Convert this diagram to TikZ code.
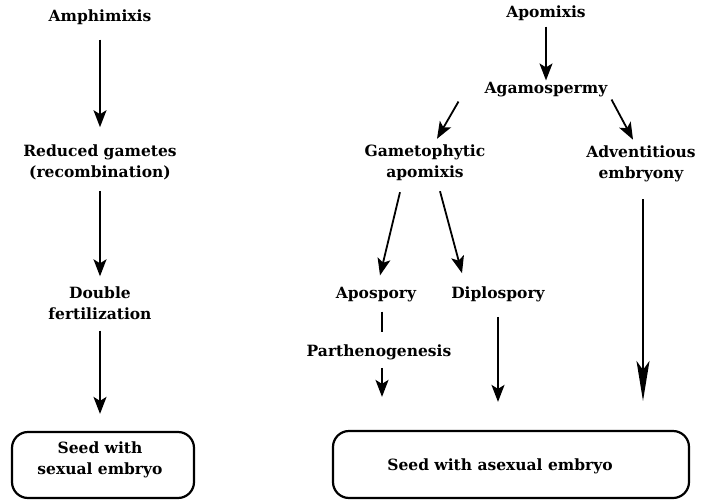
\documentclass[tikz,border=0pt]{standalone}
\usepackage{fontspec}
\setmainfont{DejaVu Serif}
\usetikzlibrary{arrows.meta,calc}
\begin{document}
\begin{tikzpicture}[x=1pt,y=-1pt,
  lbl/.style={font=\fontsize{15.5}{21}\selectfont\bfseries, align=center, inner sep=0pt},
  arr/.style={line width=1.8pt, -{Stealth[length=17pt,width=13pt,inset=4pt]}},
  longarr/.style={line width=1.8pt, -{Stealth[length=40pt,width=13pt,inset=9pt]}},
  link/.style={line width=1.8pt},
  seedbox/.style={draw, line width=2.2pt, rounded corners=16pt, inner sep=0pt}]
\useasboundingbox (0,0) rectangle (702,501);

% ---- sexual pathway ----
\node[lbl] (amph) at (100,17) {Amphimixis};
\node[lbl] (red) at (100,162) {Reduced gametes\\(recombination)};
\node[lbl] (dbl) at (100,303) {Double\\fertilization};
\node[seedbox, minimum width=182pt, minimum height=66pt] (sexbox) at (103,465) {};
\node[lbl] (sextxt) at (100,460) {Seed with\\sexual embryo};

\draw[arr, shorten <=15pt, shorten >=17pt] (amph.south) -- (red.north);
\draw[arr, shorten <=11pt, shorten >=10pt] (red.south) -- (dbl.north);
\draw[arr, shorten <=11pt, shorten >=17pt] (dbl.south) -- (dbl.south |- sexbox.north);

% ---- apomictic pathways ----
\node[lbl] (apo) at (546,13) {Apomixis};
\node[lbl] (agam) at (546,90) {Agamospermy};
\node[lbl] (gam) at (425,163) {Gametophytic\\apomixis};
\node[lbl] (adv) at (641,164) {Adventitious\\embryony};
\node[lbl] (apos) at (376,295) {Apospory};
\node[lbl] (diplo) at (498,294) {Diplospory};
\node[lbl] (parth) at (379,352) {Parthenogenesis};
\node[seedbox, minimum width=356pt, minimum height=67pt] (asex) at (511,464.5) {};
\node[lbl] (asextxt) at (500,466) {Seed with asexual embryo};

\draw[arr, shorten <=6pt, shorten >=2pt] (apo.south) -- (agam.north);

\coordinate (g1) at ($(agam.south west)+(-26,4)$);
\coordinate (g2) at ($(gam.north)+(12,-6)$);
\draw[arr] (g1) -- (g2);

\coordinate (v1) at ($(agam.south east)+(4,2)$);
\coordinate (v2) at ($(adv.north)+(-8,-6)$);
\draw[arr] (v1) -- (v2);

\coordinate (p1) at ($(gam.south)+(-25,11)$);
\coordinate (p2) at ($(apos.north)+(4,-12)$);
\draw[arr] (p1) -- (p2);

\coordinate (d1) at ($(gam.south)+(15,10)$);
\coordinate (d2) at ($(diplo.north)+(-36,-13)$);
\draw[arr] (d1) -- (d2);

\coordinate (q1) at ($(apos.south)+(6,9)$);
\coordinate (q2) at ($(parth.north)+(3,-12)$);
\draw[link] (q1) -- (q1 |- q2);

\coordinate (r1) at ($(parth.south)+(3,8)$);
\draw[arr, shorten >=33pt] (r1) -- (r1 |- asex.north);

\draw[arr, shorten <=15pt, shorten >=28pt] (diplo.south) -- (diplo.south |- asex.north);

\coordinate (e1) at ($(adv.south)+(2,17)$);
\draw[longarr, shorten >=29pt] (e1) -- (e1 |- asex.north);
\end{tikzpicture}
\end{document}
